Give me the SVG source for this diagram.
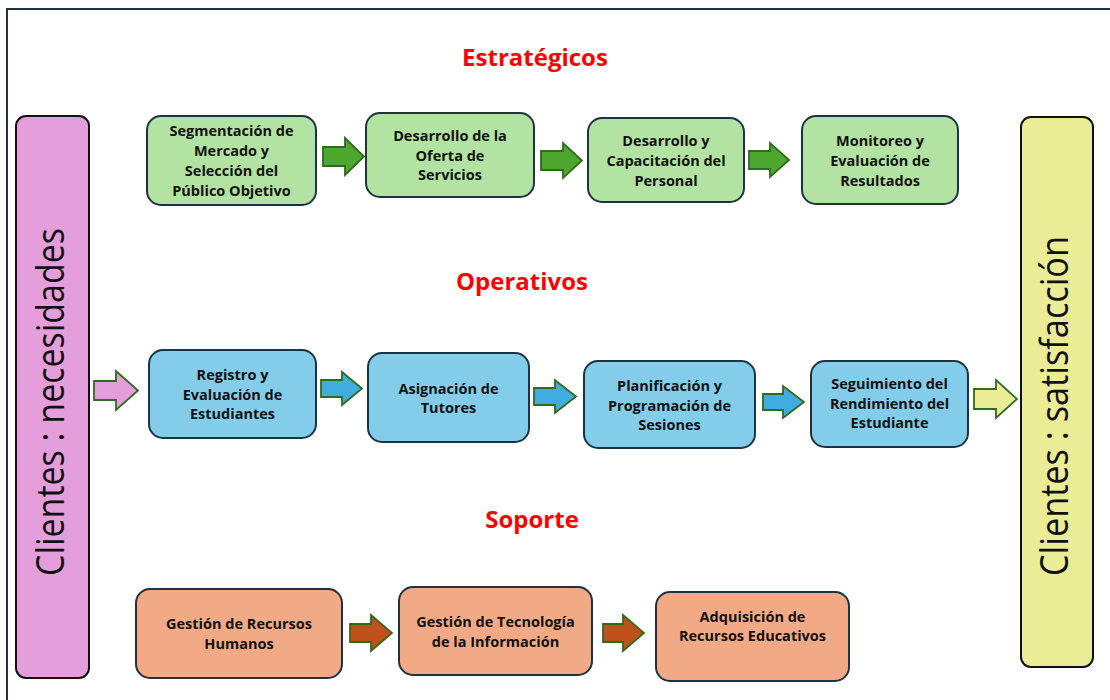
<svg xmlns="http://www.w3.org/2000/svg" width="1110" height="700" viewBox="0 0 1110 700">
<style>
.frame{fill:#fff;stroke:#1c3344;stroke-width:2}
.node{stroke:#1c3344;stroke-width:2}
.g{fill:#b3e3a2}.b{fill:#84cdea}.o{fill:#f1aa85}
.bar{stroke:#111;stroke-width:2}
.t{font-family:"Open Sans","Noto Sans",sans-serif;font-weight:700;font-size:14.5px;fill:#111;text-anchor:middle}
.h{font-family:"Open Sans","Noto Sans",sans-serif;font-weight:700;font-size:24px;fill:#ff0000;text-anchor:middle}
.v{font-family:"Open Sans","Noto Sans",sans-serif;font-size:38px;fill:#111;text-anchor:middle}
.arr{stroke:#2f6b1e;stroke-width:1.8;stroke-linejoin:miter}
.ag{fill:#4ea72e}.ab{fill:#41acdf}.ap{fill:#e49edc}.ay{fill:#ebec96}.ao{fill:#c0501c}
</style>
<rect x="7" y="9" width="1120" height="710" class="frame"/>
<text x="535" y="66" class="h">Estratégicos</text>
<text x="522" y="290" class="h">Operativos</text>
<text x="532" y="528" class="h">Soporte</text>

<g id="clientes-necesidades">
<rect x="16" y="116" width="73" height="562" rx="10" fill="#e49edc" class="bar"/>
<text transform="translate(64,402) rotate(-90)" x="0" y="0" class="v" textLength="348" lengthAdjust="spacingAndGlyphs">Clientes : necesidades</text>
</g>
<g id="clientes-satisfaccion">
<rect x="1021" y="117" width="72" height="550" rx="10" fill="#ebec96" class="bar"/>
<text transform="translate(1068,406) rotate(-90)" x="0" y="0" class="v" textLength="340" lengthAdjust="spacingAndGlyphs">Clientes : satisfacción</text>
</g>

<g id="e1"><rect x="147" y="116" width="169" height="89" rx="14" class="node g"/>
<text class="t" x="231.5" y="136">Segmentación de</text><text class="t" x="231.5" y="156">Mercado y</text><text class="t" x="231.5" y="176">Selección del</text><text class="t" x="231.5" y="196">Público Objetivo</text></g>
<g id="e2"><rect x="366" y="113" width="168" height="84" rx="14" class="node g"/>
<text class="t" x="450" y="141">Desarrollo de la</text><text class="t" x="450" y="161">Oferta de</text><text class="t" x="450" y="180">Servicios</text></g>
<g id="e3"><rect x="588" y="118" width="156" height="84" rx="14" class="node g"/>
<text class="t" x="666" y="146">Desarrollo y</text><text class="t" x="666" y="166">Capacitación del</text><text class="t" x="666" y="186">Personal</text></g>
<g id="e4"><rect x="802" y="116" width="156" height="88" rx="14" class="node g"/>
<text class="t" x="880" y="146">Monitoreo y</text><text class="t" x="880" y="166">Evaluación de</text><text class="t" x="880" y="186">Resultados</text></g>

<g id="o1"><rect x="149" y="350" width="167" height="88" rx="14" class="node b"/>
<text class="t" x="232.5" y="380">Registro y</text><text class="t" x="232.5" y="400">Evaluación de</text><text class="t" x="232.5" y="419">Estudiantes</text></g>
<g id="o2"><rect x="368" y="353" width="161" height="89" rx="14" class="node b"/>
<text class="t" x="448.5" y="394">Asignación de</text><text class="t" x="448.5" y="413">Tutores</text></g>
<g id="o3"><rect x="584" y="361" width="171" height="87" rx="14" class="node b"/>
<text class="t" x="669.5" y="391">Planificación y</text><text class="t" x="669.5" y="411">Programación de</text><text class="t" x="669.5" y="430">Sesiones</text></g>
<g id="o4"><rect x="811" y="361" width="157" height="86" rx="14" class="node b"/>
<text class="t" x="889.5" y="389">Seguimiento del</text><text class="t" x="889.5" y="409">Rendimiento del</text><text class="t" x="889.5" y="428">Estudiante</text></g>

<g id="s1"><rect x="136" y="589" width="206" height="89" rx="14" class="node o"/>
<text class="t" x="239" y="629">Gestión de Recursos</text><text class="t" x="239" y="649">Humanos</text></g>
<g id="s2"><rect x="399" y="587" width="193" height="88" rx="14" class="node o"/>
<text class="t" x="495.5" y="627">Gestión de Tecnología</text><text class="t" x="495.5" y="647">de la Información</text></g>
<g id="s3"><rect x="656" y="592" width="193" height="89" rx="14" class="node o"/>
<text class="t" x="752.5" y="622">Adquisición de</text><text class="t" x="752.5" y="641">Recursos Educativos</text></g>

<g id="connectors">
<polygon class="arr ag" points="323,147 345,147 345,138 364,156.5 345,175 345,166 323,166"/>
<polygon class="arr ag" points="541,151 563,151 563,143 582,160.5 563,178 563,170 541,170"/>
<polygon class="arr ag" points="749,151 770,151 770,143 789,160 770,177 770,169 749,169"/>
<polygon class="arr ap" points="94,381 116,381 116,371 138,390.5 116,410 116,400 94,400"/>
<polygon class="arr ab" points="321,380 342,380 342,372 362,388.5 342,405 342,397 321,397"/>
<polygon class="arr ab" points="534,388 555,388 555,380 576,396.5 555,413 555,405 534,405"/>
<polygon class="arr ab" points="763,394 783,394 783,386 804,402 783,418 783,410 763,410"/>
<polygon class="arr ay" points="974,389 996,389 996,380 1017,399 996,418 996,409 974,409"/>
<polygon class="arr ao" points="350,624 371,624 371,615 392,633 371,651 371,642 350,642"/>
<polygon class="arr ao" points="603,624 623,624 623,615 644,633 623,651 623,642 603,642"/>
</g>
</svg>
